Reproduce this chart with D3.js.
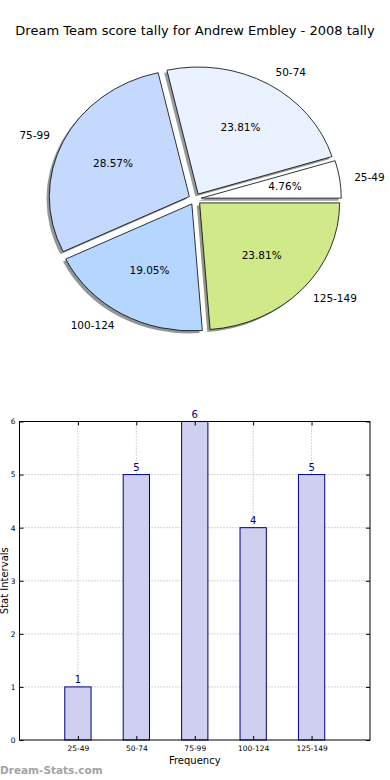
<!DOCTYPE html>
<html>
<head>
<meta charset="utf-8">
<script src="https://cdn.jsdelivr.net/npm/d3@7"></script>
<style>
  html, body { margin: 0; padding: 0; background: #fff; }
  svg { display: block; font-family: "DejaVu Sans", sans-serif; }
</style>
</head>
<body>
<div id="chart"></div>
<script>
// chart data
const title = "Dream Team score tally for Andrew Embley - 2008 tally";
const categories = ["25-49", "50-74", "75-99", "100-124", "125-149"];
const counts = [1, 5, 6, 4, 5];
const pieColors = ["#ffffff", "#eaf1ff", "#c5d9ff", "#b5d6ff", "#d0ea8a"];
const yTicks = [0, 1, 2, 3, 4, 5, 6];

const width = 390, height = 780;

const svg = d3.select("#chart")
    .append("svg")
    .attr("width", width)
    .attr("height", height);

svg.append("rect").attr("width", width).attr("height", height).attr("fill", "#fff");

// title
svg.append("text")
    .attr("x", 195)
    .attr("y", 35)
    .attr("text-anchor", "middle")
    .attr("font-size", 13)
    .text(title);

// ---- pie (elliptical, exploded, with shadows like matplotlib) ----
const cx = 195, cy = 199, rx = 140, ry = 127, explode = 0.045;
const total = d3.sum(counts);

const pie = d3.pie().sort(null)
    .startAngle(Math.PI / 2)
    .endAngle(Math.PI / 2 - 2 * Math.PI);
const arcs = pie(counts);
const arc = d3.arc().innerRadius(0).outerRadius(1);

const pieG = svg.append("g");

function offset(d, k) {
    const m = (d.startAngle + d.endAngle) / 2;
    return [cx + k * rx * Math.sin(m), cy - k * ry * Math.cos(m)];
}

// shadows
pieG.selectAll(".shadow")
    .data(arcs)
    .enter()
    .append("path")
    .attr("class", "shadow")
    .attr("d", arc)
    .attr("transform", d => {
        const [px, py] = offset(d, explode);
        return `translate(${px - 0.02 * rx}, ${py + 0.02 * ry}) scale(${rx}, ${ry})`;
    })
    .attr("fill", (d, i) => {
        const c = d3.rgb(pieColors[i]);
        return d3.rgb(c.r * 0.3, c.g * 0.3, c.b * 0.3);
    })
    .attr("fill-opacity", 0.55);

// wedges
pieG.selectAll(".wedge")
    .data(arcs)
    .enter()
    .append("path")
    .attr("class", "wedge")
    .attr("d", arc)
    .attr("transform", d => {
        const [px, py] = offset(d, explode);
        return `translate(${px}, ${py}) scale(${rx}, ${ry})`;
    })
    .attr("fill", (d, i) => pieColors[i])
    .attr("stroke", "#000")
    .attr("stroke-width", 0.8)
    .attr("vector-effect", "non-scaling-stroke");

// outer labels
pieG.selectAll(".plabel")
    .data(arcs)
    .enter()
    .append("text")
    .attr("class", "plabel")
    .attr("x", d => offset(d, 0.05 + 1.1)[0])
    .attr("y", d => offset(d, 0.05 + 1.1)[1])
    .attr("dy", "0.35em")
    .attr("text-anchor", d => Math.sin((d.startAngle + d.endAngle) / 2) > 0 ? "start" : "end")
    .attr("font-size", 10.5)
    .text((d, i) => categories[i]);

// percentages
pieG.selectAll(".pct")
    .data(arcs)
    .enter()
    .append("text")
    .attr("class", "pct")
    .attr("x", d => offset(d, 0.05 + 0.6)[0])
    .attr("y", d => offset(d, 0.05 + 0.6)[1])
    .attr("dy", "0.35em")
    .attr("text-anchor", "middle")
    .attr("font-size", 10.5)
    .text(d => (d.value / total * 100).toFixed(2) + "%");

// ---- bar chart ----
const plotLeft = 19.5, plotRight = 370, plotTop = 421.5, plotBottom = 740;
const x = d3.scaleLinear().domain([0, 6]).range([plotLeft, plotRight]);
const y = d3.scaleLinear().domain([0, 6]).range([plotBottom, plotTop]);
const barW = x(0.45) - x(0);

const barG = svg.append("g");

// grid
barG.selectAll(".vgrid")
    .data(categories)
    .enter()
    .append("line")
    .attr("x1", (d, i) => x(i + 1))
    .attr("x2", (d, i) => x(i + 1))
    .attr("y1", plotTop)
    .attr("y2", plotBottom)
    .attr("stroke", "#aaa")
    .attr("stroke-dasharray", "1,2");

barG.selectAll(".hgrid")
    .data(yTicks.slice(1, -1))
    .enter()
    .append("line")
    .attr("x1", plotLeft)
    .attr("x2", plotRight)
    .attr("y1", d => y(d))
    .attr("y2", d => y(d))
    .attr("stroke", "#aaa")
    .attr("stroke-dasharray", "1,2");

// bars
barG.selectAll(".bar")
    .data(counts)
    .enter()
    .append("rect")
    .attr("x", (d, i) => x(i + 1) - barW / 2)
    .attr("y", d => y(d))
    .attr("width", barW)
    .attr("height", d => y(0) - y(d))
    .attr("fill", "#ccccee")
    .attr("fill-opacity", 0.95)
    .attr("stroke", "#000080")
    .attr("stroke-width", 1);

// value labels
barG.selectAll(".val")
    .data(counts)
    .enter()
    .append("text")
    .attr("x", (d, i) => x(i + 1))
    .attr("y", d => y(d) - 4)
    .attr("text-anchor", "middle")
    .attr("font-size", 10)
    .attr("fill", "#000080")
    .text(d => d);

// axes (ticks inside, like matplotlib)
const yAxis = barG.append("g")
    .attr("transform", `translate(${plotLeft},0)`)
    .call(d3.axisLeft(y).tickValues(yTicks).tickFormat(d3.format("d")).tickSize(-4).tickPadding(4));
const yAxisR = barG.append("g")
    .attr("transform", `translate(${plotRight},0)`)
    .call(d3.axisRight(y).tickValues(yTicks).tickSize(-4).tickFormat(""));
const xAxis = barG.append("g")
    .attr("transform", `translate(0,${plotBottom})`)
    .call(d3.axisBottom(x).tickValues([1, 2, 3, 4, 5]).tickSize(-4).tickPadding(6)
        .tickFormat(d => categories[d - 1]));
const xAxisT = barG.append("g")
    .attr("transform", `translate(0,${plotTop})`)
    .call(d3.axisTop(x).tickValues([1, 2, 3, 4, 5]).tickSize(-4).tickFormat(""));

[yAxis, yAxisR, xAxis, xAxisT].forEach(g => {
    g.select(".domain").remove();
    g.selectAll("text").attr("font-family", "DejaVu Sans").attr("font-size", 7.5).attr("fill", "#000");
    g.selectAll("line").attr("stroke", "#000");
});

// frame
barG.append("rect")
    .attr("x", plotLeft)
    .attr("y", plotTop)
    .attr("width", plotRight - plotLeft)
    .attr("height", plotBottom - plotTop)
    .attr("fill", "none")
    .attr("stroke", "#000")
    .attr("stroke-width", 1);

// axis titles
svg.append("text")
    .attr("x", (plotLeft + plotRight) / 2)
    .attr("y", 764)
    .attr("text-anchor", "middle")
    .attr("font-size", 10)
    .text("Frequency");

svg.append("text")
    .attr("transform", `translate(7.5, ${(plotTop + plotBottom) / 2}) rotate(-90)`)
    .attr("text-anchor", "middle")
    .attr("font-size", 10)
    .text("Stat Intervals");

// watermark
svg.append("text")
    .attr("x", 0)
    .attr("y", 774)
    .attr("font-size", 10.5)
    .attr("font-weight", "bold")
    .attr("fill", "#a3a3a3")
    .text("Dream-Stats.com");
</script>
</body>
</html>
